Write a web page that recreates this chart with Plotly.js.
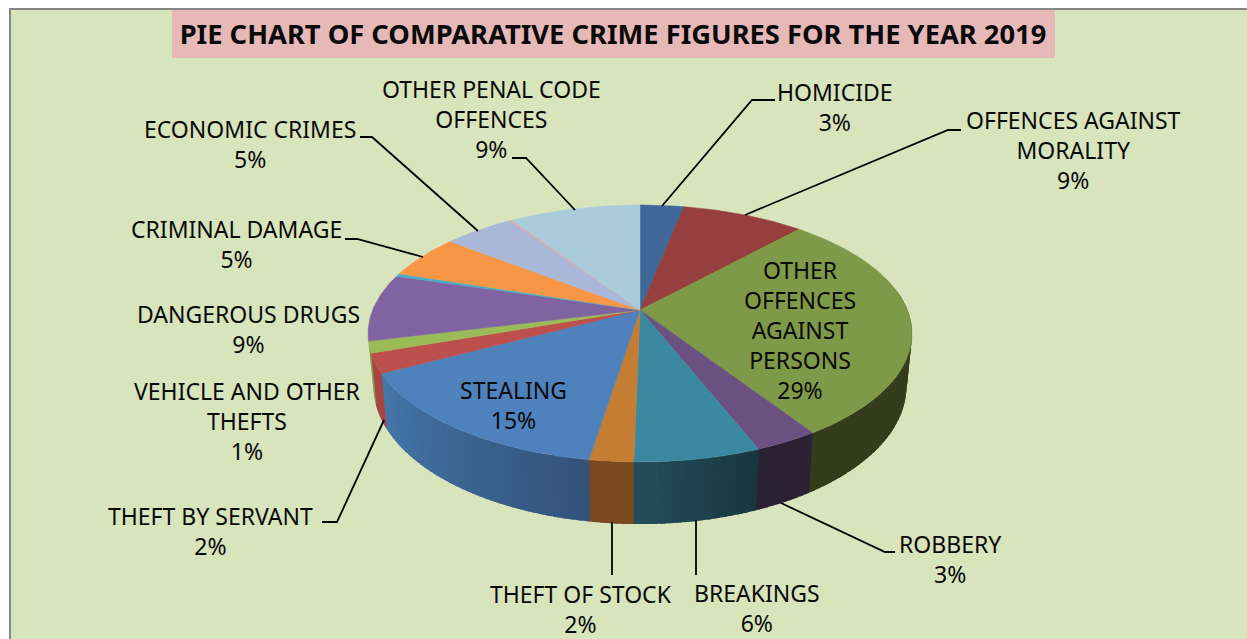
<!DOCTYPE html>
<html><head><meta charset="utf-8">
<script src="https://cdn.plot.ly/plotly-3.0.1.min.js"></script>
<style>html,body{margin:0;padding:0;background:#fff;overflow:hidden}#c{width:1247px;height:639px}</style>
</head><body><div id="c"></div>
<script>
const chartTitle = 'PIE CHART OF COMPARATIVE CRIME FIGURES FOR THE YEAR 2019';
const categories = ['HOMICIDE','OFFENCES AGAINST<br>MORALITY','OTHER<br>OFFENCES<br>AGAINST<br>PERSONS','ROBBERY','BREAKINGS','THEFT OF STOCK','STEALING','THEFT BY SERVANT','VEHICLE AND OTHER<br>THEFTS','DANGEROUS DRUGS','(minor category A)','CRIMINAL DAMAGE','ECONOMIC CRIMES','(minor category B)','OTHER PENAL CODE<br>OFFENCES'];
const shares = [3.1,8.7,29.0,3.2,6.3,2.2,14.75,2.45,1.45,8.45,0.4,5.5,5.0,0.2,9.3];
const percentLabels = ['3%','9%','29%','3%','6%','2%','15%','2%','1%','9%','','5%','5%','','9%'];
const topColors = ['#3F6797','#973F3E','#7E9947','#6A5182','#3A89A1','#C57C33','#4F81BD','#BD504D','#9BBB59','#8064A2','#4BACC6','#F79646','#A9B8D8','#DDA9A8','#A9CBDB'];
const wallLeft  = ['#2A4463','#642A29','#343C1C','#2B2135','#254D5D','#7A491F','#4577AC','#A84543','#7D9A45','#6A5386','#3A8CA2','#C97A38','#8A97B2','#B58A89','#8AA6B3'];
const wallRight = ['#2A4463','#642A29','#343C1C','#2B2135','#17373F','#7A491F','#33527A','#A84543','#7D9A45','#6A5386','#3A8CA2','#C97A38','#8A97B2','#B58A89','#8AA6B3'];

// label placement in page pixels: [centre x, centre y of the text block]
const labelPos = [[835,106.5],[1073,150],[800,330],[950,558.5],[757,608],[581,608.5],[513,404.5],[210,530.5],[247,421],[248,328.5],null,[236,243.5],[250,144],null,[491,119]];
// leader lines in page pixels
const leaders = [
 [[662,206],[752,100],[775,100]],
 [[745,215],[948,130],[961,130]],
 [[781,503],[885,552],[895,552]],
 [[696,520],[696,575]],
 [[612,522],[612,575]],
 [[384,420],[337,522],[322,522]],
 [[423,257],[357,239],[345,239]],
 [[478,231],[372,137],[360,137]],
 [[575,210],[526,158],[512,158]]
];

// projection of the tilted disc
const cx=640, cy=310, a=267.4, b=124.2, k=0.183, depth=50.7, shrink=0.98;
const FONT='"Noto Sans", Tahoma, sans-serif';
const total = shares.reduce((s,v)=>s+v,0);
function topPt(f){const t=2*Math.PI*f,u=Math.sin(t),v=Math.cos(t),w=1+k*v;return [cx+a*u/w, cy-b*v/w, v];}
function botPt(f){const t=2*Math.PI*f,u=Math.sin(t),v=Math.cos(t),w=1+k*v;return [cx+shrink*a*u/w, cy-b*v/w+depth/w, v];}
function hex(c){return [1,3,5].map(i=>parseInt(c.substr(i,2),16));}
function mix(c1,c2,t){const A=hex(c1),B=hex(c2);return 'rgb('+A.map((x,i)=>Math.round(x+(B[i]-x)*t)).join(',')+')';}

const traces=[]; const step=0.004;
let cum=0; const ranges=shares.map(s=>{const r=[cum/total,(cum+s)/total];cum+=s;return r;});
// side wall: each strip runs slightly under the next one so no seams appear
ranges.forEach((r,i)=>{
  const n=Math.max(1,Math.ceil((r[1]-r[0])/step)); const d=(r[1]-r[0])/n;
  for(let j=0;j<n;j++){
    const f0=r[0]+d*j, f1=f0+d, mid=(f0+f1)/2, v=Math.cos(2*Math.PI*mid), onLeft=mid>0.5;
    if(v>(onLeft?-0.24:0.15)) continue;
    const fe=f1+d*0.7;
    const p=[topPt(f0),topPt(fe),botPt(fe),botPt(f0),topPt(f0)];
    const col=mix(wallRight[i],wallLeft[i],(j+.5)/n);
    traces.push({type:'scatter',mode:'none',x:p.map(q=>q[0]),y:p.map(q=>q[1]),fill:'toself',fillcolor:col,hoverinfo:'skip',showlegend:false});
  }
});
// top face
ranges.forEach((r,i)=>{
  const xs=[cx],ys=[cy]; const n=Math.max(2,Math.ceil((r[1]-r[0])/0.002));
  for(let j=0;j<=n;j++){const p=topPt(r[0]+(r[1]-r[0])*j/n);xs.push(p[0]);ys.push(p[1]);}
  xs.push(cx);ys.push(cy);
  traces.push({type:'scatter',mode:'lines',name:categories[i].replace(/<br>/g,' '),x:xs,y:ys,fill:'toself',fillcolor:topColors[i],line:{color:topColors[i],width:0.5},hoverinfo:'name',showlegend:false});
});
// leaders
leaders.forEach(l=>traces.push({type:'scatter',mode:'lines',x:l.map(p=>p[0]),y:l.map(p=>p[1]),line:{color:'#000',width:1.8},hoverinfo:'skip',showlegend:false}));

const annotations=[];
categories.forEach((c,i)=>{ if(!labelPos[i]) return;
  annotations.push({x:labelPos[i][0],y:labelPos[i][1],xref:'x',yref:'y',text:c+'<br>'+percentLabels[i],showarrow:false,align:'center',xanchor:'center',yanchor:'middle',font:{family:FONT,size:23,color:'#0a0a0a'}});
});

const layout={
  width:1247,height:639,margin:{l:0,r:0,t:0,b:0,pad:0},paper_bgcolor:'#fff',plot_bgcolor:'rgba(0,0,0,0)',showlegend:false,
  xaxis:{range:[0,1247],visible:false,fixedrange:true},
  yaxis:{range:[639,0],visible:false,fixedrange:true},
  title:{text:'<b>'+chartTitle+'</b>',x:613/1247,xref:'paper',xanchor:'center',y:1-34/639,yref:'paper',yanchor:'middle',font:{family:FONT,size:27.3,color:'#0a0a0a'}},
  shapes:[
    {type:'rect',xref:'x',yref:'y',x0:10,x1:1260,y0:9,y1:660,fillcolor:'#D8E4BC',line:{color:'#868686',width:2},layer:'below'},
    {type:'rect',xref:'x',yref:'y',x0:172,x1:1055,y0:10,y1:58,fillcolor:'#E6B8B7',line:{width:0},layer:'below'}
  ],
  annotations
};
Plotly.newPlot('c',traces,layout,{displayModeBar:false,staticPlot:true});
</script></body></html>
